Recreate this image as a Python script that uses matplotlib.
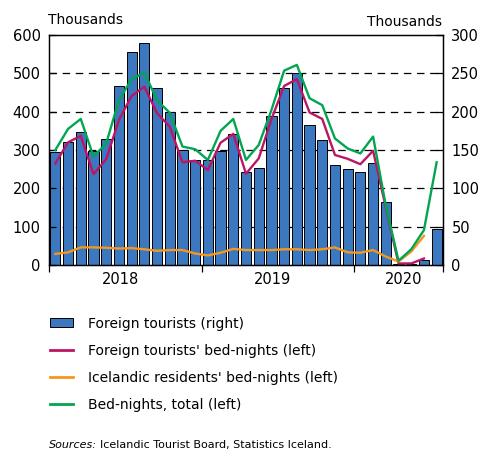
import numpy as np
import matplotlib.pyplot as plt
from matplotlib.patches import Patch
from matplotlib.lines import Line2D
from matplotlib.transforms import offset_copy

# monthly data, Jan 2018 - Jul 2020 (thousands)
months = np.arange(31)
foreign_tourists = [148, 160, 173, 149, 165, 233, 278, 290, 231, 199, 150, 137,
                    137, 149, 171, 121, 126, 195, 231, 251, 183, 163, 131, 125,
                    121, 133, 82, 1, 1.5, 6, 46.5]
foreign_nights = [265, 320, 337, 237, 276, 378, 441, 465, 396, 361, 268, 272,
                  248, 319, 342, 238, 278, 380, 467, 485, 398, 381, 287, 277,
                  263, 298, 150, 4, 4, 17]
icelandic_nights = [29, 33, 46, 46, 45, 43, 44, 41, 37, 39, 39, 30,
                    25, 32, 42, 39, 39, 39, 41, 41, 39, 41, 46, 33,
                    32, 39, 22, 9, 35, 76]
total_nights = [300, 355, 381, 283, 317, 430, 485, 502, 430, 397, 309, 302,
                274, 350, 381, 274, 313, 404, 507, 522, 435, 417, 330, 304,
                291, 335, 155, 11, 41, 91, 268]
years = ['2018', '2019', '2020']
year_pos = [5.1, 17.1, 27.4]
year_edges = [-0.5, 11.5, 23.5, 30.5]

blue = '#3b78c0'
magenta = '#bb1563'
orange = '#f5961e'
green = '#00a651'

plt.rcParams['font.family'] = 'DejaVu Sans'

fig = plt.figure(figsize=(4.78, 4.50), dpi=100)
ax = fig.add_axes([49/478, 1-265/450, 394/478, 230/450])
ax2 = ax.twinx()
ax.set_zorder(ax2.get_zorder() + 1)
ax.patch.set_visible(False)

# bars on right axis
ax2.bar(months, foreign_tourists, width=0.8, color=blue, edgecolor='black', linewidth=0.7, zorder=2)
ax2.set_ylim(0, 300)
ax2.set_yticks(np.arange(0, 301, 50))
for v in range(50, 300, 50):
    ax2.axhline(v, color='black', lw=0.9, dashes=(6, 4.5), zorder=1)

# lines on left axis
ax.plot(months[:len(foreign_nights)], foreign_nights, color=magenta, lw=1.7)
ax.plot(months[:len(icelandic_nights)], icelandic_nights, color=orange, lw=1.7)
ax.plot(months, total_nights, color=green, lw=1.7)
ax.set_ylim(0, 600)
ax.set_yticks(np.arange(0, 601, 100))
ax.set_xlim(-0.5, 30.5)

ax.set_xticks(year_edges)
ax.set_xticklabels([])
ax.set_xticks(year_pos, minor=True)
ax.set_xticklabels(years, minor=True, fontsize=10.5)
ax.tick_params(axis='x', which='major', direction='out', length=5, width=0.9)
ax.tick_params(axis='x', which='minor', length=0, pad=5)
ax.tick_params(axis='y', direction='in', length=5, width=0.9, labelsize=10.5, pad=6)
ax2.tick_params(axis='y', direction='in', length=5, width=0.9, labelsize=10.5, pad=6)

for a in (ax, ax2):
    for s in a.spines.values():
        s.set_linewidth(0.9)

fig.text(48/478, 1-20/450, 'Thousands', fontsize=10, va='center', ha='left')
fig.text(442/478, 1-22/450, 'Thousands', fontsize=10, va='center', ha='right')

handles = [Patch(facecolor=blue, edgecolor='black', linewidth=0.7),
           Line2D([], [], color=magenta, lw=2),
           Line2D([], [], color=orange, lw=2),
           Line2D([], [], color=green, lw=2)]
labels = ['Foreign tourists (right)', "Foreign tourists' bed-nights (left)",
          "Icelandic residents' bed-nights (left)", 'Bed-nights, total (left)']
fig.legend(handles, labels, loc='upper left', bbox_to_anchor=(44/478, 1-311/450),
           frameon=False, fontsize=10, handlelength=1.7, handleheight=0.6,
           handletextpad=1.1, labelspacing=0.95, borderaxespad=0)

# sources line: italic prefix then normal text
t1 = fig.text(49/478, 1-445/450, 'Sources:', fontsize=8, style='italic', va='center', ha='left')
fig.canvas.draw()
w = t1.get_window_extent().width
fig.text(49/478 + (w + 3)/478, 1-445/450, 'Icelandic Tourist Board, Statistics Iceland.',
         fontsize=8, va='center', ha='left')

fig.savefig('out.png', dpi=100)
